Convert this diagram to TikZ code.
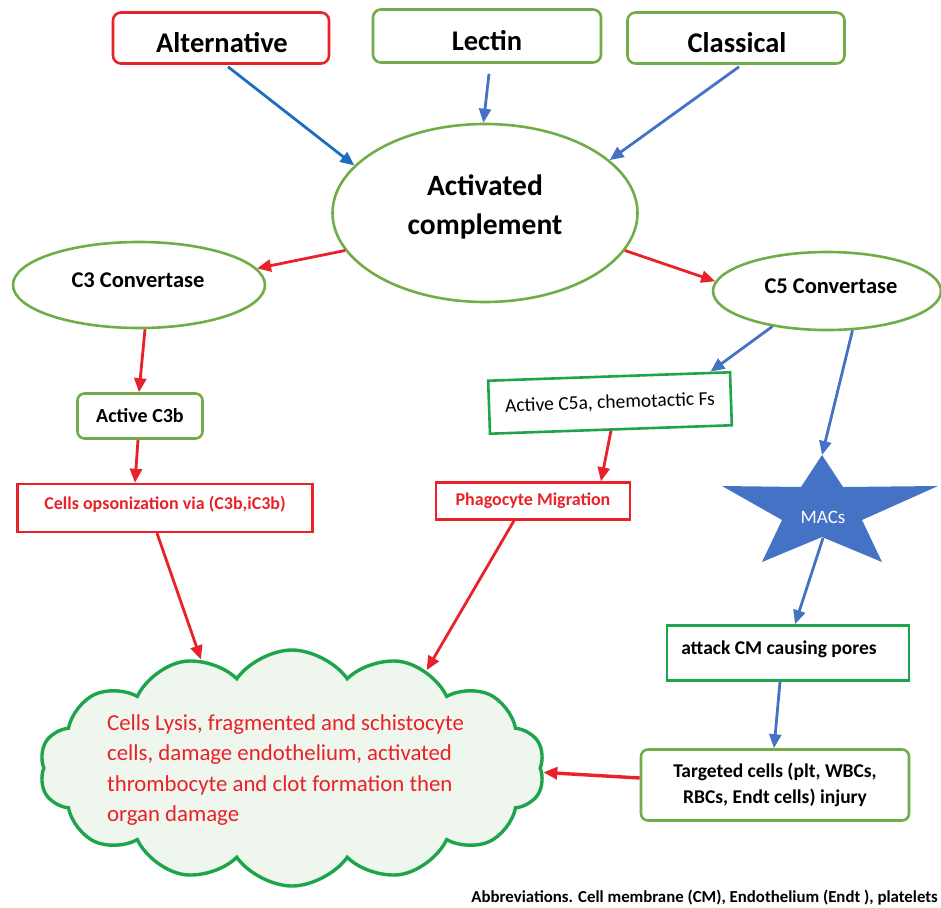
\documentclass[tikz,border=0pt]{standalone}
\usepackage{fontspec}
\setmainfont{Carlito}
\usetikzlibrary{shapes.geometric,shapes.symbols,arrows.meta,calc}
\definecolor{myred}{RGB}{232,34,40}
\definecolor{greenL}{RGB}{112,173,71}
\definecolor{greenD}{RGB}{30,165,75}
\definecolor{blueD}{RGB}{30,110,190}
\definecolor{myblue}{RGB}{68,114,196}
\definecolor{cloudfill}{RGB}{238,246,238}
\begin{document}
\begin{tikzpicture}[x=1pt,y=-1pt,
  topbox/.style={draw=greenL, line width=2.6pt, rounded corners=8pt, inner sep=0pt,
    minimum height=51pt},
  toptext/.style={inner sep=0pt, font=\fontsize{28.5}{32}\selectfont\bfseries},
  oval/.style={ellipse, draw=greenL, line width=2.6pt, inner sep=0pt, fill=white},
  sqbox/.style={draw=greenD, line width=2.6pt, inner sep=0pt},
  redbox/.style={draw=myred, line width=2.4pt, inner sep=0pt, text=myred},
  tipA/.style={-{Triangle[length=14pt,width=12pt]}},
  rarr/.style={draw=myred, line width=2.8pt, tipA},
  barr/.style={draw=myblue, line width=2.8pt, tipA},
  bdarr/.style={draw=blueD, line width=2.8pt, tipA}]
\useasboundingbox (0,0) rectangle (941,907);

% top boxes
\node[topbox, draw=myred, minimum width=216pt] (alt) at (221,38) {};
\node[toptext] (altt) at (222,43) {Alternative};
\node[topbox, minimum width=228pt, minimum height=53pt] (lec) at (487,36) {};
\node[toptext] (lect) at (487,41) {Lectin};
\node[topbox, minimum width=217pt] (cla) at (736,38) {};
\node[toptext] (clat) at (737,43) {Classical};

% ellipses
\node[oval, minimum width=305pt, minimum height=178pt] (act) at (485,213) {};
\node[align=center, inner sep=0pt, font=\fontsize{29.5}{39}\selectfont\bfseries] (actt) at (485,207) {Activated\\complement};
\node[oval, minimum width=252pt, minimum height=86pt] (c3) at (139,285) {};
\node[inner sep=0pt, font=\fontsize{22.5}{26}\selectfont\bfseries] (c3t) at (138,280) {C3 Convertase};
\node[oval, minimum width=228pt, minimum height=78pt] (c5) at (827,291) {};
\node[inner sep=0pt, font=\fontsize{22.5}{26}\selectfont\bfseries] (c5t) at (831,286) {C5 Convertase};

% boxes
\node[draw=greenL, line width=2.6pt, rounded corners=7pt, inner sep=0pt,
  minimum width=125pt, minimum height=45pt,
  font=\fontsize{20}{24}\selectfont\bfseries] (c3b) at (140,416) {Active C3b};
\node[redbox, minimum width=295pt, minimum height=48pt] (ops) at (165,508) {};
\node[inner sep=0pt, text=myred, font=\fontsize{18}{22}\selectfont\bfseries] (opst) at (165,504) {Cells opsonization via (C3b,iC3b)};
\node[sqbox, minimum width=242pt, minimum height=53pt, rotate=2,
  font=\fontsize{19.5}{23}\selectfont] (c5a) at (610,403) {Active C5a, chemotactic Fs};
\node[redbox, minimum width=194pt, minimum height=37pt,
  font=\fontsize{18}{22}\selectfont\bfseries] (pha) at (533,501) {Phagocyte Migration};

% star
\fill[myblue] (822,455) -- (843,487) -- (938,486) -- (862,520) -- (882,562)
  -- (822,537) -- (762,562) -- (782,520) -- (722,486) -- (801,487) -- cycle;
\node[text=white, font=\fontsize{19}{23}\selectfont] (mac) at (823,517) {MACs};
\coordinate (mactop) at (822,455);
\coordinate (macbot) at (823,538);

\node[sqbox, minimum width=242pt, minimum height=55pt,
  font=\fontsize{19.5}{23}\selectfont\bfseries] (att) at (788,653) {};
\node[inner sep=0pt, font=\fontsize{19.5}{23}\selectfont\bfseries] (attt) at (779,649) {attack CM causing pores};
\node[draw=greenL, line width=2.6pt, rounded corners=7pt, inner sep=0pt,
  minimum width=268pt, minimum height=71pt, align=center,
  font=\fontsize{19.5}{26}\selectfont\bfseries] (tar) at (775,785) {Targeted cells (plt, WBCs,\\RBCs, Endt cells) injury};

% cloud
\node[cloud, cloud puffs=14, cloud puff arc=110, draw=greenD, fill=cloudfill,
  line width=3.4pt, minimum width=505pt, minimum height=236pt, inner sep=0pt] (cloud) at (292,768) {};
\node[anchor=west, align=left, inner sep=0pt, text=myred,
  font=\fontsize{22.8}{30.5}\selectfont] (ctext) at (107,770)
  {Cells Lysis, fragmented and schistocyte\\cells, damage endothelium, activated\\thrombocyte and clot formation then\\organ damage};

\node[anchor=east, inner sep=0pt, font=\fontsize{16.8}{20}\selectfont\bfseries] (abbr) at (938,898)
  {Abbreviations. Cell membrane (CM), Endothelium (Endt ), platelets};

% arrows
\draw[bdarr] ([xshift=7pt,yshift=-2pt]alt.south) -- (act.160);
\draw[barr] ([xshift=2pt,yshift=-10pt]lec.south) -- (act.91);
\draw[barr] ([xshift=3pt,yshift=-2pt]cla.south) -- (act.23);
\draw[rarr] (act.195) -- (c3.8);
\draw[rarr] (act.-15) -- (c5.175);
\draw[rarr] ([xshift=6pt]c3.south) -- ([xshift=-1pt]c3b.north);
\draw[rarr] ([xshift=-2pt]c3b.south) -- ([xshift=-30pt]ops.north);
\draw[barr] (c5.213) -- ($(c5a.north)!0.83!(c5a.north east)$);
\draw[barr] (c5.-57) -- (mactop);
\draw[rarr] (c5a.south) -- ([xshift=68pt]pha.north);
\draw[rarr] ([xshift=-8pt]ops.south) -- (cloud.130);
\draw[rarr] ([xshift=-19pt]pha.south) -- (cloud.36);
\draw[barr] (macbot) -- ([xshift=7pt]att.north);
\draw[barr] ([xshift=-8pt]att.south) -- ([xshift=-1pt]tar.north);
\draw[rarr, line width=3.4pt] ([yshift=7pt]tar.west) -- (cloud.-1);
\end{tikzpicture}
\end{document}
